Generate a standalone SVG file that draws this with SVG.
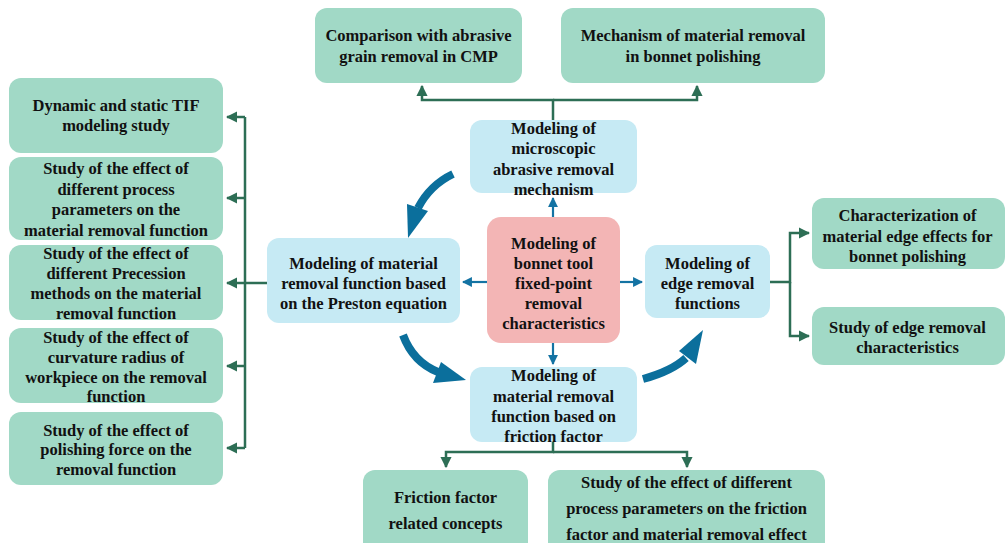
<svg xmlns="http://www.w3.org/2000/svg" width="1005" height="543" viewBox="0 0 1005 543">
<defs>
<style>
.g{fill:#a1d9c6}
.b{fill:#c6eaf4}
.r{fill:#f3b5b5}
.t text{font-weight:bold;font-size:16.5px;fill:#111;text-anchor:middle}
.gl{fill:none;stroke:#2d6e55;stroke-width:2.5}
.bl{fill:none;stroke:#1473a3;stroke-width:2.2}
.big{fill:none;stroke:#0b6f9c;stroke-width:8}
.bh{fill:#0b6f9c}
</style>
<marker id="ga" viewBox="0 0 10 10" refX="9" refY="5" markerWidth="4.5" markerHeight="4.5" orient="auto" markerUnits="strokeWidth"><path d="M0,0L10,5L0,10z" fill="#2d6e55"/></marker>
<marker id="ba" viewBox="0 0 10 10" refX="9" refY="5" markerWidth="4.5" markerHeight="4.5" orient="auto" markerUnits="strokeWidth"><path d="M0,0L10,5L0,10z" fill="#1473a3"/></marker>
</defs>
<g id="connectors">
<path class="gl" d="M553,120V100H422V86" marker-end="url(#ga)"/>
<path class="gl" d="M553,100H697V86" marker-end="url(#ga)"/>
<path class="gl" d="M267,283H245" />
<path class="gl" d="M245,117V448"/>
<path class="gl" d="M245,117H227" marker-end="url(#ga)"/>
<path class="gl" d="M245,198H227" marker-end="url(#ga)"/>
<path class="gl" d="M245,283H227" marker-end="url(#ga)"/>
<path class="gl" d="M245,366H227" marker-end="url(#ga)"/>
<path class="gl" d="M245,448H227" marker-end="url(#ga)"/>
<path class="gl" d="M770,282H790V233H809" marker-end="url(#ga)"/>
<path class="gl" d="M790,282V336H809" marker-end="url(#ga)"/>
<path class="gl" d="M553,442V452H446V467" marker-end="url(#ga)"/>
<path class="gl" d="M553,452H687V467" marker-end="url(#ga)"/>
<path class="bl" d="M553,217V198" marker-end="url(#ba)"/>
<path class="bl" d="M553,343V364" marker-end="url(#ba)"/>
<path class="bl" d="M487,282H463" marker-end="url(#ba)"/>
<path class="bl" d="M620,282H642" marker-end="url(#ba)"/>
<path class="big" d="M453,174Q430,185 418,208"/>
<path class="bh" d="M407,204L428,211L408,238z"/>
<path class="big" d="M403,335Q413,362 438,372"/>
<path class="bh" d="M441,362L433,383L466,380z"/>
<path class="big" d="M643,379Q672,371 686,358"/>
<path class="bh" d="M679,351L696,364L703,330z"/>
</g>
<g class="t" font-family="'Liberation Serif', 'Times New Roman', Tinos, serif">
<g id="n-comparison"><rect class="g" x="315" y="8" width="207" height="75" rx="12"/><text x="418.5" y="40.5">Comparison with abrasive</text><text x="418.5" y="62">grain removal in CMP</text></g>
<g id="n-mechanism"><rect class="g" x="561" y="8" width="264" height="75" rx="12"/><text x="693" y="40.5">Mechanism of material removal</text><text x="693" y="62">in bonnet polishing</text></g>
<g id="n-micro"><rect class="b" x="470" y="120" width="167" height="73" rx="12"/><text x="553.5" y="133.5">Modeling of</text><text x="553.5" y="154">microscopic</text><text x="553.5" y="174.5">abrasive removal</text><text x="553.5" y="194.5">mechanism</text></g>
<g id="n-preston"><rect class="b" x="267" y="238" width="193" height="85" rx="12"/><text x="363.5" y="268.5">Modeling of material</text><text x="363.5" y="288.5">removal function based</text><text x="363.5" y="308.5">on the Preston equation</text></g>
<g id="n-center"><rect class="r" x="487" y="217" width="133" height="126" rx="14"/><text x="553.5" y="248.5">Modeling of</text><text x="553.5" y="268.5">bonnet tool</text><text x="553.5" y="288.5">fixed-point</text><text x="553.5" y="308.5">removal</text><text x="553.5" y="328.5">characteristics</text></g>
<g id="n-edge"><rect class="b" x="645" y="245" width="125" height="73" rx="12"/><text x="707.5" y="268.5">Modeling of</text><text x="707.5" y="289">edge removal</text><text x="707.5" y="308.5">functions</text></g>
<g id="n-friction"><rect class="b" x="470" y="367" width="167" height="75" rx="12"/><text x="553.5" y="380.5">Modeling of</text><text x="553.5" y="401.5">material removal</text><text x="553.5" y="421.5">function based on</text><text x="553.5" y="441.5">friction factor</text></g>
<g id="n-charact"><rect class="g" x="812" y="198" width="193" height="71" rx="12"/><text x="907.5" y="220.5">Characterization of</text><text x="907.5" y="241.5">material edge effects for</text><text x="907.5" y="261.5">bonnet polishing</text></g>
<g id="n-edgestudy"><rect class="g" x="812" y="307" width="193" height="58" rx="12"/><text x="907.5" y="332.5">Study of edge removal</text><text x="907.5" y="352.5">characteristics</text></g>
<g id="n-tif"><rect class="g" x="9" y="78" width="214" height="75" rx="12"/><text x="116" y="111">Dynamic and static TIF</text><text x="116" y="131">modeling study</text></g>
<g id="n-process"><rect class="g" x="9" y="157" width="214" height="83" rx="12"/><text x="116" y="173.5">Study of the effect of</text><text x="116" y="194.5">different process</text><text x="116" y="215">parameters on the</text><text x="116" y="235.5">material removal function</text></g>
<g id="n-precession"><rect class="g" x="9" y="245" width="214" height="75" rx="12"/><text x="116" y="258.5">Study of the effect of</text><text x="116" y="278.5">different Precession</text><text x="116" y="298.5">methods on the material</text><text x="116" y="318.5">removal function</text></g>
<g id="n-curvature"><rect class="g" x="9" y="328" width="214" height="75" rx="12"/><text x="116" y="342.5">Study of the effect of</text><text x="116" y="362.5">curvature radius of</text><text x="116" y="382.5">workpiece on the removal</text><text x="116" y="401.5">function</text></g>
<g id="n-force"><rect class="g" x="9" y="412" width="214" height="73" rx="12"/><text x="116" y="435.5">Study of the effect of</text><text x="116" y="454.5">polishing force on the</text><text x="116" y="474.5">removal function</text></g>
<g id="n-ffconcepts"><rect class="g" x="363" y="470" width="165" height="85" rx="12"/><text x="445.5" y="502.5">Friction factor</text><text x="445.5" y="528.5">related concepts</text></g>
<g id="n-ffstudy"><rect class="g" x="548" y="470" width="277" height="85" rx="12"/><text x="686.5" y="487.5">Study of the effect of different</text><text x="686.5" y="514">process parameters on the friction</text><text x="686.5" y="539.5">factor and material removal effect</text></g>
</g>
</svg>
